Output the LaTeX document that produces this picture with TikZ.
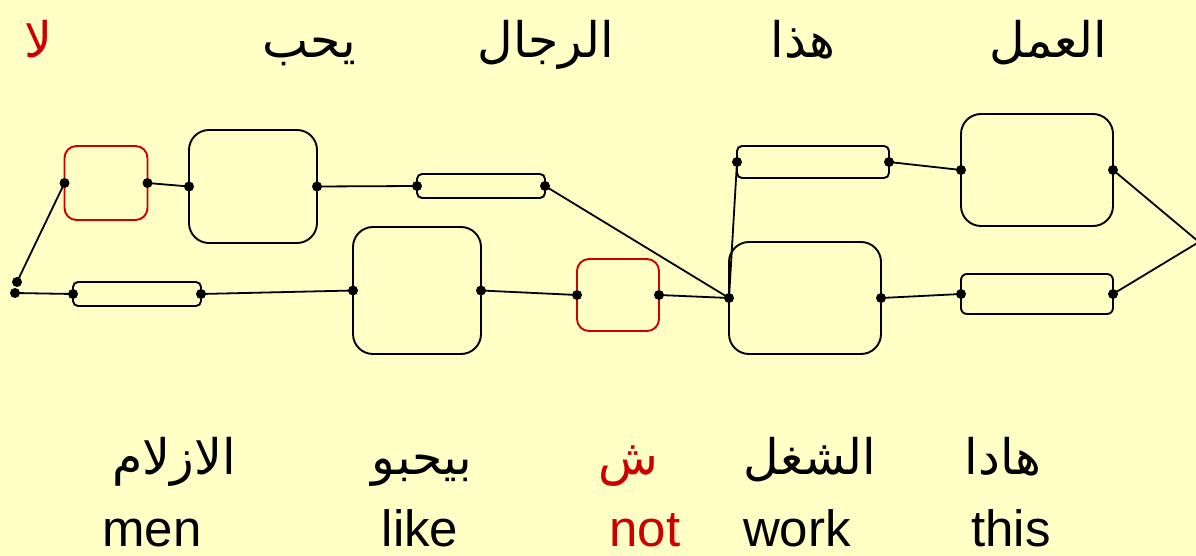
\documentclass[tikz,border=0pt]{standalone}
\usepackage{fontspec}
\setmainfont{Liberation Sans}
\newfontfamily\arabicfont[Script=Arabic]{DejaVu Sans}
\TeXXeTstate=1
\definecolor{paper}{HTML}{FFFFC6}
\definecolor{wordred}{HTML}{CC0000}
\tikzset{
  box/.style={draw, line width=1.9pt, rounded corners=#1, inner sep=0pt, outer sep=0pt},
  box/.default=20pt,
  link/.style={line width=1.8pt},
  dot/.style={fill=black},
  arword/.style={anchor=base, inner sep=0pt, font=\arabicfont\fontsize{49}{57}\selectfont},
  enword/.style={anchor=base, inner sep=0pt, font=\fontsize{51}{58}\selectfont},
}
\begin{document}
\begin{tikzpicture}[x=1pt, y=-1pt]
  \fill[paper] (0,0) rectangle (1196,556);
  \useasboundingbox (0,0) rectangle (1196,556);

  % Arabic words on top
  \node[arword, wordred] (u1) at (38,58) {\beginR لا\endR};
  \node[arword] (u2) at (309,58) {\beginR يحب\endR};
  \node[arword] (u3) at (546,58) {\beginR الرجال\endR};
  \node[arword] (u4) at (803,58) {\beginR هذا\endR};
  \node[arword] (u5) at (1048,58) {\beginR العمل\endR};

  % dialect words and glosses below
  \node[arword] (d1) at (174,474) {\beginR الازلام\endR};
  \node[arword] (d2) at (422,474) {\beginR بيحبو\endR};
  \node[arword, wordred] (d3) at (628,474) {\beginR ش\endR};
  \node[arword] (d4) at (810,474) {\beginR الشغل\endR};
  \node[arword] (d5) at (1003,474) {\beginR هادا\endR};

  \node[enword] (e1) at (152,546) {men};
  \node[enword] (e2) at (420,546) {like};
  \node[enword, wordred] (e3) at (645,546) {not};
  \node[enword] (e4) at (797,546) {work};
  \node[enword] (e5) at (1011,546) {this};

  % lattice boxes
  \node[box=12pt, draw=wordred, minimum width=83pt, minimum height=74pt] (A) at (106,183) {};
  \node[box, minimum width=128pt, minimum height=113pt] (B) at (253,186.5) {};
  \node[box=5pt, minimum width=128pt, minimum height=24pt] (C) at (137,294) {};
  \node[box, minimum width=128pt, minimum height=127pt] (D) at (417,290.5) {};
  \node[box=5pt, minimum width=128pt, minimum height=24pt] (E) at (481,186) {};
  \node[box=12pt, draw=wordred, minimum width=82pt, minimum height=72pt] (F) at (618,295) {};
  \node[box, minimum width=152pt, minimum height=112pt] (G) at (805,298) {};
  \node[box=5pt, minimum width=152pt, minimum height=32pt] (H) at (813,162) {};
  \node[box, minimum width=152pt, minimum height=112pt] (I) at (1037,170) {};
  \node[box=6pt, minimum width=152pt, minimum height=40pt] (J) at (1037,294) {};

  \coordinate (s1) at (17,282);
  \coordinate (s2) at (15,293);
  \coordinate (t) at (1199,242);

  % connectors
  \draw[link] (s1) -- (A.west);
  \draw[link] (s2) -- (C.west);
  \draw[link] (A.east) -- (B.west);
  \draw[link] (B.east) -- (E.west);
  \draw[link] (E.east) -- (G.west);
  \draw[link] (C.east) -- (D.west);
  \draw[link] (D.east) -- (F.west);
  \draw[link] (F.east) -- (G.west);
  \draw[link] (G.west) -- (H.west);
  \draw[link] (H.east) -- (I.west);
  \draw[link] (G.east) -- (J.west);
  \draw[link] (I.east) -- (t);
  \draw[link] (J.east) -- (t);

  % junction dots
  \fill[dot] (s1) circle (5pt);
  \fill[dot] (s2) circle (5pt);
  \foreach \n in {A,B,C,D,E,F,G,H,I,J} {
    \fill[dot] (\n.west) circle (5pt);
    \fill[dot] (\n.east) circle (5pt);
  }
\end{tikzpicture}
\end{document}
